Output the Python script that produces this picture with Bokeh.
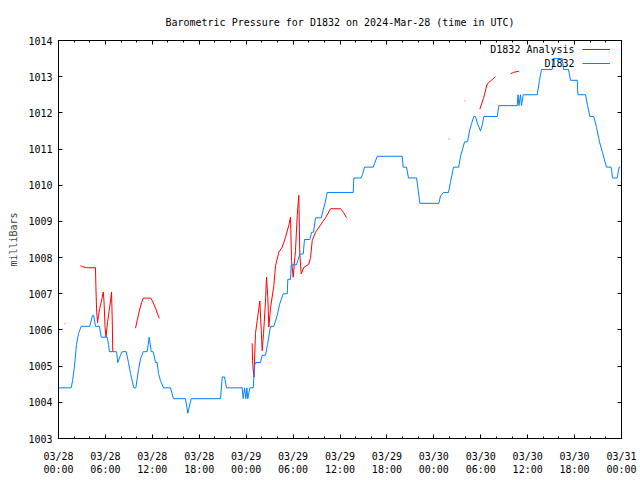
import math
from bokeh.plotting import figure
from bokeh.models import (Range1d, FixedTicker, LinearAxis, Legend, LegendItem, Label,
                          CustomLabelingPolicy)
from bokeh.core.properties import value
from bokeh.embed import file_html
from bokeh.resources import INLINE

# ---- data: time in hours since 2024-03-28 00:00 UTC, pressure in mb ----
station_hours = [0.00, 1.62, 1.8, 2.05, 2.3, 2.56, 2.9, 4.0, 4.35, 4.5, 4.73, 5.24, 5.46, 6.23, 6.4, 6.52,
                 7.42, 7.58, 7.93, 8.15, 8.66, 8.95, 9.21, 9.63, 9.89, 10.23, 10.49, 10.83, 11.34, 11.6,
                 11.86, 12.11, 12.41, 12.62, 12.79, 13.04, 13.43, 14.32, 14.7, 16.24, 16.54, 16.97, 20.72,
                 20.94, 21.23, 21.49, 23.49, 23.62, 23.79, 23.96, 24.09, 24.21, 24.47, 24.9, 25.07, 25.19,
                 25.83, 26.05, 26.47, 26.73, 27.11, 27.54, 27.97, 28.26, 28.74, 29.25, 29.33, 29.67, 29.76,
                 30.44, 30.86, 31.3, 31.46, 32.14, 32.36, 32.61, 32.87, 33.6, 33.83, 34.08, 34.36, 37.69,
                 37.77, 38.71, 38.88, 39.14, 40.25, 40.42, 40.76, 43.96, 44.08, 44.51, 44.76, 45.79, 45.98,
                 46.21, 48.64, 48.85, 49.24, 49.88, 50.14, 50.52, 51.17, 51.42, 51.68, 51.93, 52.31, 52.56,
                 52.82, 53.11, 53.33, 53.59, 53.97, 54.23, 54.39, 56.11, 56.31, 58.66, 58.76, 58.89, 59.08,
                 59.21, 59.43, 61.22, 61.51, 61.77, 63.14, 63.27, 64.42, 64.58, 65.22, 65.48, 66.34, 66.42,
                 67.4, 67.66, 67.95, 68.46, 68.8, 69.19, 69.57, 70.08, 70.68, 70.85, 71.45, 71.7, 71.85]
station_mb = [1004.4, 1004.4, 1004.6, 1005.0, 1005.6, 1005.9, 1006.1, 1006.1, 1006.4, 1006.4, 1006.1, 1006.1,
              1005.8, 1005.8, 1005.6, 1005.4, 1005.4, 1005.1, 1005.3, 1005.4, 1005.4, 1005.1, 1004.8, 1004.4,
              1004.4, 1004.9, 1005.2, 1005.4, 1005.4, 1005.8, 1005.4, 1005.4, 1005.1, 1005.1, 1004.8, 1004.6,
              1004.4, 1004.4, 1004.1, 1004.1, 1003.7, 1004.1, 1004.1, 1004.7, 1004.7, 1004.4, 1004.4, 1004.1,
              1004.4, 1004.1, 1004.4, 1004.1, 1004.4, 1004.4, 1005.0, 1005.1, 1005.1, 1005.3, 1005.3, 1005.6,
              1006.1, 1006.1, 1006.4, 1006.7, 1007.0, 1007.0, 1007.4, 1007.4, 1007.8, 1007.8, 1008.1, 1008.1,
              1008.5, 1008.5, 1008.7, 1008.7, 1009.1, 1009.1, 1009.3, 1009.5, 1009.8, 1009.8, 1010.2, 1010.2,
              1010.3, 1010.5, 1010.5, 1010.6, 1010.8, 1010.8, 1010.5, 1010.5, 1010.2, 1010.2, 1009.9, 1009.5,
              1009.5, 1009.7, 1009.8, 1009.8, 1010.1, 1010.5, 1010.5, 1010.8, 1011.0, 1011.2, 1011.2, 1011.5,
              1011.7, 1011.9, 1011.9, 1011.7, 1011.5, 1011.7, 1011.9, 1011.9, 1012.2, 1012.2, 1012.5, 1012.2,
              1012.5, 1012.2, 1012.5, 1012.5, 1012.9, 1013.2, 1013.2, 1013.5, 1013.5, 1013.2, 1013.2, 1012.9,
              1012.9, 1012.5, 1012.5, 1012.2, 1011.9, 1011.9, 1011.6, 1011.2, 1010.9, 1010.5, 1010.5, 1010.2,
              1010.2, 1010.5, 1010.5]

# analysis: separate pieces (gaps in between)
analysis_hours_1 = [0.78, 0.88]
analysis_mb_1 = [1006.17, 1006.17]
analysis_hours_2 = [2.81, 3.07, 3.58, 4.73, 4.77, 4.86, 4.99, 5.12, 5.28, 5.59, 5.72, 5.82, 5.95, 6.07, 6.27,
                    6.46, 6.65, 6.78, 6.87, 6.94]
analysis_mb_2 = [1007.78, 1007.75, 1007.72, 1007.72, 1007.3, 1006.6, 1006.2, 1006.4, 1006.6, 1006.9, 1007.05,
                 1006.8, 1006.1, 1005.8, 1006.2, 1006.5, 1006.8, 1007.05, 1006.3, 1005.4]
analysis_hours_3 = [9.85, 10.1, 10.36, 10.62, 10.83, 11.77, 12.02, 12.41, 12.88]
analysis_mb_3 = [1006.05, 1006.3, 1006.55, 1006.75, 1006.88, 1006.88, 1006.8, 1006.6, 1006.32]
analysis_hours_4 = [24.77, 24.81, 24.9, 25.0, 25.19, 25.41, 25.62, 25.75, 25.93, 26.05, 26.22, 26.47, 26.6,
                    26.77, 26.9, 27.11, 27.54, 27.76, 28.18, 28.61, 29.03, 29.45, 29.67, 29.8, 30.01, 30.31,
                    30.53, 30.73, 30.86, 31.04, 31.37, 32.01, 32.23, 32.45, 32.87, 33.51, 34.15, 34.79, 36.07,
                    36.45, 36.83]
analysis_mb_4 = [1005.63, 1005.15, 1004.9, 1004.7, 1005.9, 1006.26, 1006.6, 1006.8, 1005.98, 1005.43, 1005.9,
                 1006.77, 1007.46, 1006.9, 1006.08, 1006.6, 1007.23, 1007.78, 1008.15, 1008.29, 1008.56,
                 1008.89, 1009.12, 1007.92, 1007.46, 1008.2, 1009.16, 1009.72, 1008.1, 1007.55, 1007.73,
                 1007.82, 1008.0, 1008.47, 1008.7, 1008.9, 1009.1, 1009.35, 1009.35, 1009.25, 1009.1]
analysis_hours_5 = [49.9, 50.0]
analysis_mb_5 = [1011.28, 1011.28]
analysis_hours_6 = [51.94, 52.04]
analysis_mb_6 = [1012.33, 1012.33]
analysis_hours_7 = [53.88, 54.35, 54.82, 55.24, 55.88]
analysis_mb_7 = [1012.1, 1012.4, 1012.8, 1012.88, 1013.0]
analysis_hours_8 = [57.81, 58.19, 58.87]
analysis_mb_8 = [1013.08, 1013.12, 1013.15]

x_tick_hours = [0, 6, 12, 18, 24, 30, 36, 42, 48, 54, 60, 66, 72]
x_tick_labels = ["03/28\n00:00", "03/28\n06:00", "03/28\n12:00", "03/28\n18:00",
                 "03/29\n00:00", "03/29\n06:00", "03/29\n12:00", "03/29\n18:00",
                 "03/30\n00:00", "03/30\n06:00", "03/30\n12:00", "03/30\n18:00", "03/31\n00:00"]
x_minor_hours = [0, 2, 4, 6, 8, 10, 12, 14, 16, 18, 20, 22, 24, 26, 28, 30, 32, 34, 36, 38, 40, 42, 44, 46,
                 48, 50, 52, 54, 56, 58, 60, 62, 64, 66, 68, 70, 72]
y_ticks = [1003, 1004, 1005, 1006, 1007, 1008, 1009, 1010, 1011, 1012, 1013, 1014]

title_text = "Barometric Pressure for D1832 on 2024-Mar-28 (time in UTC)"
series_names = ["D1832 Analysis", "D1832"]
colors = ["#ff0000", "#0080ff"]

# join analysis pieces with gaps
pieces = [(analysis_hours_1, analysis_mb_1), (analysis_hours_2, analysis_mb_2),
          (analysis_hours_3, analysis_mb_3), (analysis_hours_4, analysis_mb_4),
          (analysis_hours_5, analysis_mb_5), (analysis_hours_6, analysis_mb_6),
          (analysis_hours_7, analysis_mb_7), (analysis_hours_8, analysis_mb_8)]
analysis_hours, analysis_mb = [], []
for hh, mm in pieces:
    if analysis_hours:
        analysis_hours.append(float("nan"))
        analysis_mb.append(float("nan"))
    analysis_hours.extend(hh)
    analysis_mb.extend(mm)

FONT = "DejaVu Sans Mono"

p = figure(width=640, height=480, output_backend="svg", toolbar_location=None,
           x_range=Range1d(0, 72), y_range=Range1d(1003, 1014),
           min_border_left=58, min_border_right=19, min_border_top=40, min_border_bottom=42)
p.background_fill_color = "white"
p.border_fill_color = "white"
p.outline_line_color = "black"
p.outline_line_width = 1
p.grid.visible = False

p.title.text = title_text
p.title.align = "center"
p.title.text_font = FONT
p.title.text_font_size = "10px"
p.title.text_font_style = "normal"
p.title.text_color = "black"
p.title.standoff = 26

r_an = p.line(analysis_hours, analysis_mb, line_color=colors[0], line_width=1)
r_st = p.line(station_hours, station_mb, line_color=colors[1], line_width=1)

# x axis
xa = p.xaxis[0]
xa.ticker = FixedTicker(ticks=x_tick_hours, minor_ticks=x_minor_hours)
xa.major_label_overrides = {h: lab for h, lab in zip(x_tick_hours, x_tick_labels)}
xa.major_label_text_font = FONT
xa.major_label_text_font_size = "10px"
xa.major_label_text_color = "black"
xa.major_label_standoff = 12
xa.major_tick_in = 4
xa.major_tick_out = 0
xa.minor_tick_in = 2
xa.minor_tick_out = 0
xa.axis_line_color = "black"

# y axis
ya = p.yaxis[0]
ya.ticker = FixedTicker(ticks=y_ticks, minor_ticks=[])
ya.major_label_text_font = FONT
ya.major_label_text_font_size = "10px"
ya.major_label_text_color = "black"
ya.major_label_standoff = 6
ya.major_tick_in = 4
ya.major_tick_out = 0
ya.minor_tick_line_color = None
ya.axis_label = "milliBars"
ya.axis_label_text_font = FONT
ya.axis_label_text_font_size = "10px"
ya.axis_label_text_font_style = "normal"
ya.axis_label_standoff = 6
ya.axis_line_color = "black"

# mirrored ticks on the right and top (no labels drawn)
no_labels = CustomLabelingPolicy(code="if (false) { yield 0 }")
ra = LinearAxis(ticker=FixedTicker(ticks=y_ticks, minor_ticks=[]), major_label_policy=no_labels,
                major_label_overrides={t: "" for t in y_ticks}, major_label_text_font_size="1px",
                major_label_standoff=0, major_tick_in=4, major_tick_out=0, minor_tick_line_color=None,
                axis_line_color="black")
p.add_layout(ra, "right")
ta = LinearAxis(ticker=FixedTicker(ticks=x_tick_hours, minor_ticks=x_minor_hours),
                major_label_policy=no_labels, major_label_overrides={t: "" for t in x_tick_hours},
                major_label_text_font_size="1px", major_label_standoff=0, major_tick_in=4,
                major_tick_out=0, minor_tick_in=2, minor_tick_out=0, axis_line_color="black")
p.add_layout(ta, "above")

# key: text right-justified, sample line to its right (gnuplot style)
legend = Legend(items=[LegendItem(label=value(""), renderers=[r_an]),
                       LegendItem(label=value(""), renderers=[r_st])],
                location=(524, 368), glyph_width=28, glyph_height=14, label_height=14,
                label_width=0, label_standoff=0, spacing=0, padding=0, margin=0,
                border_line_color=None, background_fill_alpha=0)
p.add_layout(legend)
for name, yv in zip(series_names, [1013.75, 1013.36]):
    p.add_layout(Label(x=66.0, y=yv, text=name, text_align="right", text_baseline="middle",
                       text_font=FONT, text_font_size="10px", text_color="black"))

open("out.html", "w").write(file_html(p, INLINE))
